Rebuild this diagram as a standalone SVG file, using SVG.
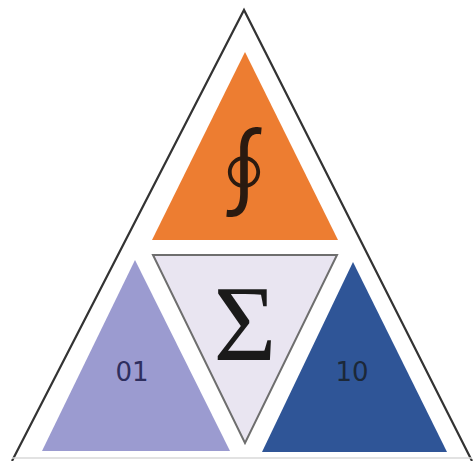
<svg xmlns="http://www.w3.org/2000/svg" width="475" height="461" viewBox="0 0 475 461">
<style>
.lbl{font-family:"DejaVu Sans","Liberation Sans",sans-serif;text-anchor:middle}
.sym{font-family:"Liberation Serif","DejaVu Serif",serif;text-anchor:middle}
</style>
<rect width="475" height="461" fill="#ffffff"/>
<g id="outer">
<polyline points="12,461 244,10 472,461" fill="none" stroke="#333333" stroke-width="2.2"/>
<line x1="12" y1="458" x2="472" y2="458" stroke="#d8d8d8" stroke-width="1.5"/>
</g>
<g id="integral">
<polygon points="245,52 338,240 152,240" fill="#ed7d31"/>
<text x="244" y="208" font-size="96" fill="#2a1a10" text-anchor="middle" style="font-family:'Noto Sans CJK SC','DejaVu Sans',sans-serif">∮</text>
</g>
<g id="sigma">
<polygon points="153,255 337,255 245,443" fill="#e9e5f1" stroke="#6e6e6e" stroke-width="2"/>
<text class="sym" x="245" y="360" font-size="108" fill="#1a1a1a">Σ</text>
</g>
<g id="left">
<polygon points="135,260 230,451 42,451" fill="#9b9bd0"/>
<text class="lbl" x="132" y="381" font-size="26" fill="#2e2e5e">01</text>
</g>
<g id="right">
<polygon points="353,262 447,452 262,452" fill="#2f5597"/>
<text class="lbl" x="352" y="381" font-size="26" fill="#1c2838">10</text>
</g>
<g id="connectors"/>
</svg>
